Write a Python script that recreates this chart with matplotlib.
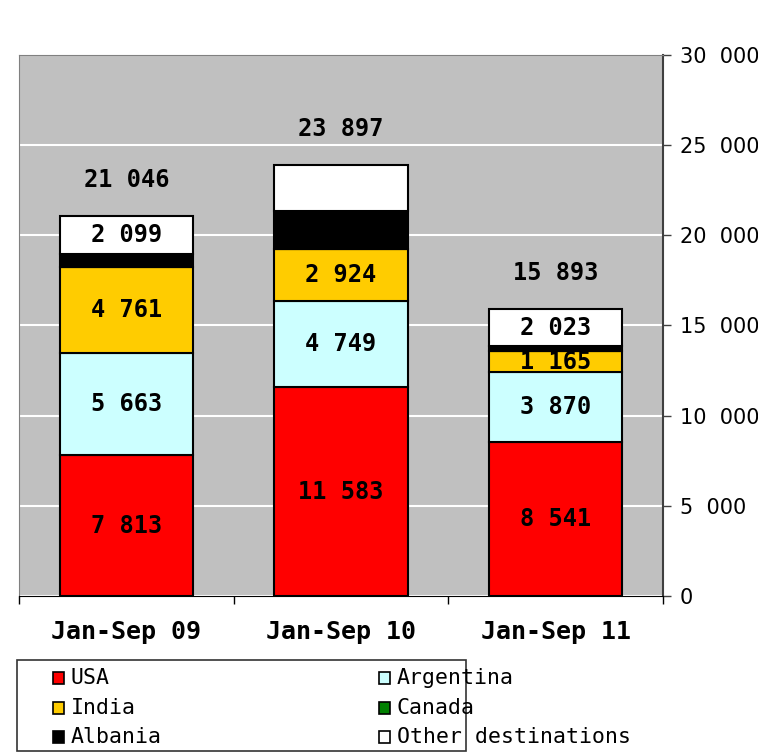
import matplotlib
matplotlib.use("Agg")
import matplotlib.pyplot as plt
from matplotlib.patches import Rectangle
import numpy as np

periods = ["Jan-Sep 09", "Jan-Sep 10", "Jan-Sep 11"]
usa = [7813, 11583, 8541]
argentina = [5663, 4749, 3870]
india = [4761, 2924, 1165]
canada = [0, 0, 0]
albania = [710, 2120, 294]
other = [2099, 2521, 2023]
totals = [21046, 23897, 15893]
other_labeled = [True, False, True]

series = [
    ("USA", usa, "#FF0000"),
    ("Argentina", argentina, "#CCFFFF"),
    ("India", india, "#FFCC00"),
    ("Canada", canada, "#008000"),
    ("Albania", albania, "#000000"),
    ("Other destinations", other, "#FFFFFF"),
]


def fmt(v, sep=" "):
    return f"{v:,}".replace(",", sep)


mono = "DejaVu Sans Mono"
W, H = 758, 753

fig = plt.figure(figsize=(W / 100, H / 100), dpi=100)
ax = fig.add_axes([19 / W, 1 - 596 / H, (663 - 19) / W, (596 - 55) / H])
ax.set_facecolor("#C0C0C0")

x = np.arange(len(periods))
bottom = np.zeros(len(periods))
for name, vals, color in series:
    vals = np.array(vals, dtype=float)
    ax.bar(x, vals, 0.62, bottom=bottom, color=color, edgecolor="black",
           linewidth=1.5, zorder=3, label=name)
    for i, v in enumerate(vals):
        show = name in ("USA", "Argentina", "India") or (name == "Other destinations" and other_labeled[i])
        if show and v > 0:
            ax.text(x[i], bottom[i] + v / 2, fmt(int(v)), ha="center", va="center",
                    family=mono, fontweight="bold", fontsize=17, color="black", zorder=4)
    bottom += vals

for i, t in enumerate(totals):
    ax.text(x[i], t + 2000, fmt(t), ha="center", va="center", family=mono,
            fontweight="bold", fontsize=17, color="black")

ax.set_xlim(-0.5, 2.5)
ax.set_ylim(0, 30000)
ax.yaxis.tick_right()
yt = list(range(0, 30001, 5000))
ax.set_yticks(yt)
ax.set_yticklabels([fmt(v, "  ") for v in yt], fontsize=15)
ax.grid(axis="y", color="white", linewidth=1.5, zorder=1)
ax.tick_params(axis="y", direction="out", length=6, width=1, color="#404040", pad=6)

ax.set_xticks(x)
ax.set_xticklabels(periods, family=mono, fontweight="bold", fontsize=18)
ax.set_xticks([-0.5, 0.5, 1.5, 2.5], minor=True)
ax.tick_params(axis="x", which="major", length=0, pad=17)
ax.tick_params(axis="x", which="minor", direction="out", length=6, width=1, color="black")

for side in ("left", "top"):
    ax.spines[side].set_color("#808080")
ax.spines["right"].set_color("#404040")
ax.spines["right"].set_linewidth(1.5)
ax.spines["bottom"].set_color("black")

# legend drawn by hand in figure pixels (y from top)
fig.patches.append(Rectangle((17 / W, 1 - 751 / H), (466 - 17) / W, (751 - 660) / H,
                             transform=fig.transFigure, facecolor="white",
                             edgecolor="#333333", linewidth=1.2))
col_x = [53, 379]
row_y = [678, 708, 737]
for k, (name, _, color) in enumerate(series):
    cx = col_x[k % 2]
    cy = row_y[k // 2]
    fig.patches.append(Rectangle((cx / W, 1 - (cy + 6) / H), 11 / W, 12 / H,
                                 transform=fig.transFigure, facecolor=color,
                                 edgecolor="black", linewidth=1.2))
    fig.text((cx + 18) / W, 1 - cy / H, name, ha="left", va="center",
             family=mono, fontsize=15.5, color="black")

fig.savefig("out.png", dpi=100, facecolor="white")
